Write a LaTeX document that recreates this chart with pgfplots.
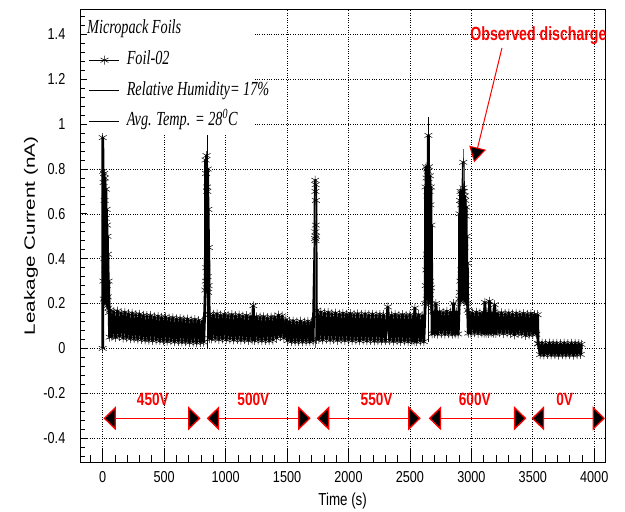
\documentclass[border=0pt]{standalone}
\usepackage{pgfplots}
\pgfplotsset{compat=1.18}
\usepackage{pgfplotstable}
\usepackage{graphicx}
\usepackage{fontspec}
\setmainfont{Liberation Serif}
\setsansfont{Liberation Sans}
\usetikzlibrary{arrows.meta}

% text is set slightly taller than wide, as in the ROOT canvas
\newcommand{\tall}[2][1.25]{\scalebox{1}[#1]{#2}}

% leakage current of Foil-02: time (s), current (nA)
\pgfplotstableread{
t I
0 0.00
0 0.94
3 0.79
5 0.30
7 0.74
9 0.22
11 0.78
13 0.40
15 0.66
17 0.21
19 0.76
21 0.35
23 0.58
25 0.24
27 0.71
29 0.20
31 0.62
33 0.28
35 0.55
37 0.19
39 0.50
41 0.23
43 0.42
45 0.18
48 0.30
52 0.16
56 0.050
60 0.170
75 0.052
90 0.164
105 0.049
120 0.166
135 0.053
150 0.159
165 0.046
180 0.160
195 0.048
210 0.155
225 0.044
240 0.156
255 0.043
270 0.151
285 0.041
300 0.152
315 0.040
330 0.147
345 0.038
360 0.146
375 0.037
390 0.146
405 0.036
420 0.141
435 0.037
450 0.143
465 0.034
480 0.138
495 0.034
510 0.140
525 0.032
540 0.135
555 0.033
570 0.136
585 0.030
600 0.132
615 0.031
630 0.133
645 0.029
660 0.129
675 0.030
690 0.130
705 0.027
720 0.126
735 0.028
750 0.128
765 0.026
780 0.124
795 0.027
810 0.122
822 0.028
835 0.26
837 0.84
839 0.30
841 0.78
843 0.36
845 0.86
847 0.27
849 0.72
851 0.70
853 0.32
855 0.80
857 0.25
859 0.62
861 0.28
863 0.45
866 0.15
868 0.044
870 0.152
885 0.042
900 0.150
915 0.044
930 0.154
945 0.040
960 0.148
975 0.042
990 0.151
1005 0.039
1020 0.147
1035 0.041
1050 0.150
1065 0.038
1080 0.146
1095 0.040
1110 0.148
1125 0.037
1140 0.144
1155 0.039
1170 0.146
1185 0.036
1200 0.142
1215 0.038
1225 0.190
1235 0.036
1250 0.141
1265 0.037
1280 0.139
1295 0.035
1310 0.141
1325 0.036
1340 0.137
1355 0.034
1370 0.139
1385 0.037
1400 0.140
1415 0.045
1430 0.148
1445 0.052
1460 0.145
1475 0.046
1490 0.128
1505 0.034
1520 0.120
1535 0.031
1550 0.122
1565 0.030
1580 0.118
1595 0.031
1610 0.121
1625 0.030
1640 0.117
1655 0.031
1670 0.120
1685 0.030
1700 0.118
1712 0.032
1728 0.49
1729 0.75
1730 0.52
1731 0.70
1732 0.48
1733 0.73
1734 0.55
1735 0.66
1736 0.50
1738 0.14
1741 0.040
1745 0.170
1760 0.040
1775 0.162
1790 0.038
1805 0.158
1820 0.041
1835 0.160
1850 0.037
1865 0.155
1880 0.040
1895 0.157
1910 0.036
1925 0.153
1940 0.039
1955 0.156
1970 0.036
1985 0.152
2000 0.038
2015 0.155
2030 0.035
2045 0.151
2060 0.037
2075 0.154
2090 0.034
2105 0.150
2120 0.037
2135 0.153
2150 0.034
2165 0.150
2180 0.036
2195 0.152
2210 0.033
2225 0.149
2240 0.035
2255 0.151
2270 0.033
2285 0.150
2300 0.034
2320 0.185
2335 0.035
2350 0.148
2365 0.032
2380 0.151
2395 0.034
2410 0.147
2425 0.031
2440 0.150
2455 0.033
2470 0.147
2485 0.031
2500 0.149
2515 0.033
2530 0.146
2535 0.032
2540 0.180
2555 0.030
2570 0.150
2585 0.032
2600 0.146
2613 0.030
2625 0.20
2627 0.72
2629 0.28
2631 0.81
2633 0.35
2635 0.76
2637 0.22
2639 0.80
2641 0.42
2643 0.68
2645 0.25
2647 0.79
2649 0.33
2650 0.95
2651 0.74
2653 0.21
2655 0.81
2657 0.38
2659 0.70
2661 0.24
2663 0.77
2665 0.30
2667 0.64
2669 0.20
2671 0.72
2673 0.27
2675 0.55
2678 0.18
2681 0.065
2685 0.165
2700 0.066
2712 0.200
2725 0.064
2740 0.164
2755 0.067
2770 0.160
2785 0.064
2800 0.165
2815 0.066
2830 0.162
2845 0.063
2855 0.200
2868 0.065
2880 0.163
2893 0.064
2902 0.22
2904 0.60
2906 0.25
2908 0.66
2910 0.30
2912 0.70
2914 0.21
2916 0.64
2918 0.35
2920 0.69
2922 0.24
2924 0.58
2926 0.40
2928 0.70
2930 0.22
2932 0.67
2934 0.83
2935 0.716
2936 0.30
2938 0.70
2940 0.26
2942 0.62
2944 0.45
2946 0.68
2948 0.21
2950 0.66
2952 0.33
2954 0.59
2956 0.23
2958 0.63
2960 0.28
2962 0.50
2964 0.20
2967 0.38
2970 0.17
2975 0.068
2982 0.160
2995 0.068
3010 0.158
3025 0.070
3040 0.161
3055 0.067
3070 0.157
3085 0.069
3098 0.160
3104 0.068
3110 0.205
3120 0.068
3135 0.158
3141 0.067
3148 0.210
3160 0.069
3175 0.159
3182 0.068
3190 0.195
3200 0.067
3215 0.156
3230 0.070
3245 0.158
3260 0.067
3275 0.155
3290 0.069
3305 0.157
3320 0.066
3335 0.154
3350 0.060
3365 0.156
3380 0.066
3395 0.153
3410 0.064
3425 0.155
3440 0.058
3455 0.152
3470 0.060
3485 0.154
3500 0.062
3515 0.151
3528 0.063
3540 0.150
3542 0.020
3545 0.022
3560 -0.028
3575 0.023
3590 -0.029
3605 0.021
3620 -0.027
3635 0.023
3650 -0.029
3665 0.022
3680 -0.028
3695 0.022
3710 -0.030
3725 0.021
3740 -0.028
3755 0.023
3770 -0.029
3785 0.021
3800 -0.028
3815 0.022
3830 -0.030
3845 0.022
3860 -0.028
3875 0.021
3890 -0.027
3895 0.018
}\foildata

\pgfplotsset{
  leakframe/.style={
    at={(80bp,49.3bp)}, anchor=south west,
    scale only axis, width=525.3bp, height=453.4bp,
    xmin=-185, xmax=4090, ymin=-0.51, ymax=1.5125,
    axis line style={line width=1bp, black},
    tick align=inside, tick pos=left,
    tick style={black, line width=0.8bp},
    grid=major,
    major grid style={black, dotted, line width=0.7bp},
    ticklabel style={font=\fontsize{12.7}{14}\selectfont\sffamily, inner sep=0pt},
  },
}

\begin{document}
\begin{tikzpicture}
\useasboundingbox (0,0) rectangle (625bp,512bp);

% time axis: long ticks, vertical grid lines and labels
\begin{axis}[
  leakframe,
  ytick=\empty,
  xtick={0,500,...,4000},
  minor xtick={-100,0,...,4000},
  major tick length=15bp, minor tick length=7.5bp,
  /pgf/number format/1000 sep={},
  xticklabel={\tall{\pgfmathprintnumber[assume math mode=true]{\tick}}},
  xticklabel shift=9bp,
  every axis x label/.style={at={(axis description cs:0.5,-0.0845)}, anchor=center,
    font=\fontsize{13.4}{15}\selectfont\sffamily},
  xlabel={\tall[1.3]{Time (s)}},
]
\end{axis}

% current axis: short ticks, horizontal grid lines and all the data
\begin{axis}[
  leakframe,
  clip=false,
  xtick=\empty,
  ytick={-0.4,-0.2,0,0.2,0.4,0.6,0.8,1,1.2,1.4},
  minor ytick={-0.48,-0.44,...,1.52},
  major tick length=6.5bp, minor tick length=5bp,
  yticklabel={\tall{\pgfmathprintnumber[assume math mode=true]{\tick}}},
  yticklabel shift=14.5bp,
  every axis y label/.style={at={(axis description cs:-0.0933,0.5)}, anchor=center,
    rotate=90, font=\fontsize{15}{17}\selectfont\sffamily},
  ylabel={\scalebox{1.38}[1]{Leakage Current (nA)}},
  legend style={draw=none, fill=none, at={(axis description cs:0.0171,0.908)},
    anchor=north west, inner sep=0pt, row sep=12.5bp, column sep=7bp,
    font=\fontsize{14.3}{17}\selectfont\itshape,
    nodes={inner sep=0pt, text height=13.5bp, text depth=4.5bp}},
  legend cell align=left,
  legend image code/.code={\draw[mark repeat=2,mark phase=2,#1]
    plot coordinates {(0bp,0bp) (15bp,0bp) (30bp,0bp)};},
]

% white panel behind the legend block
\fill[white] (axis cs:-128,0.952) rectangle (axis cs:1223,1.509);

% measured current
\addplot[black, line width=2.8bp, line join=round, mark=asterisk, mark size=4.5bp,
  mark options={line width=0.5bp, solid}, forget plot]
  table[x=t, y=I] {\foildata};

% vertical strokes at the discharge spikes
\addplot[black, line width=1bp, forget plot] coordinates {(849,0.0) (849,0.95)};
\addplot[black!65, line width=0.7bp, forget plot] coordinates {(1731,0.0) (1731,0.75)};
\addplot[black, line width=0.8bp, forget plot] coordinates {(2650,0.03) (2650,1.03)};
\addplot[black!60, line width=0.8bp, forget plot] coordinates {(2934,0.70) (2934,0.89)};

% legend
\addlegendimage{black, line width=0.6bp, mark=asterisk, mark size=4.5bp, mark options={line width=0.5bp}}
\addlegendentry{\tall[1.4]{Foil-02}}
\addlegendimage{black, line width=0.6bp}
\addlegendentry{\tall[1.4]{Relative Humidity= 17\%}}
\addlegendimage{black, line width=0.6bp}
\addlegendentry{\tall[1.4]{Avg. Temp. = 28\textsuperscript{0}C}}

\node[anchor=base west, inner sep=0pt, font=\fontsize{14.3}{17}\selectfont\itshape]
  at (axis description cs:0.0133,0.9466) {\tall[1.4]{Micropack Foils}};

% applied voltage periods
\tikzset{volt/.style={red, line width=1.3bp,
  {Triangle[length=12.5bp,width=24bp,fill=black]}-{Triangle[length=12.5bp,width=24bp,fill=black]}},
  vlab/.style={text=red, inner sep=0pt, font=\fontsize{13.7}{15}\selectfont\sffamily\bfseries}}
\draw[volt] (axis cs:6,-0.312) -- (axis cs:796,-0.312);
\draw[volt] (axis cs:846,-0.312) -- (axis cs:1692,-0.312);
\draw[volt] (axis cs:1742,-0.312) -- (axis cs:2588,-0.312);
\draw[volt] (axis cs:2653,-0.312) -- (axis cs:3448,-0.312);
\draw[volt] (axis cs:3490,-0.312) -- (axis cs:4088,-0.312);
\node[vlab] at (axis cs:408,-0.226) {\tall[1.3]{450V}};
\node[vlab] at (axis cs:1226,-0.226) {\tall[1.3]{500V}};
\node[vlab] at (axis cs:2229,-0.226) {\tall[1.3]{550V}};
\node[vlab] at (axis cs:3028,-0.226) {\tall[1.3]{600V}};
\node[vlab] at (axis cs:3760,-0.226) {\tall[1.3]{0V}};

% annotation of the discharge
\node[text=red, inner sep=0pt, font=\fontsize{14.2}{16}\selectfont\sffamily\bfseries]
  at (axis cs:3546,1.393) {\tall[1.35]{Observed discharge}};
\draw[red, line width=1bp, -{Triangle[length=15bp,width=17bp,fill=black]}]
  (axis cs:3249,1.34) -- (axis cs:3022,0.83);

\end{axis}
\end{tikzpicture}
\end{document}
